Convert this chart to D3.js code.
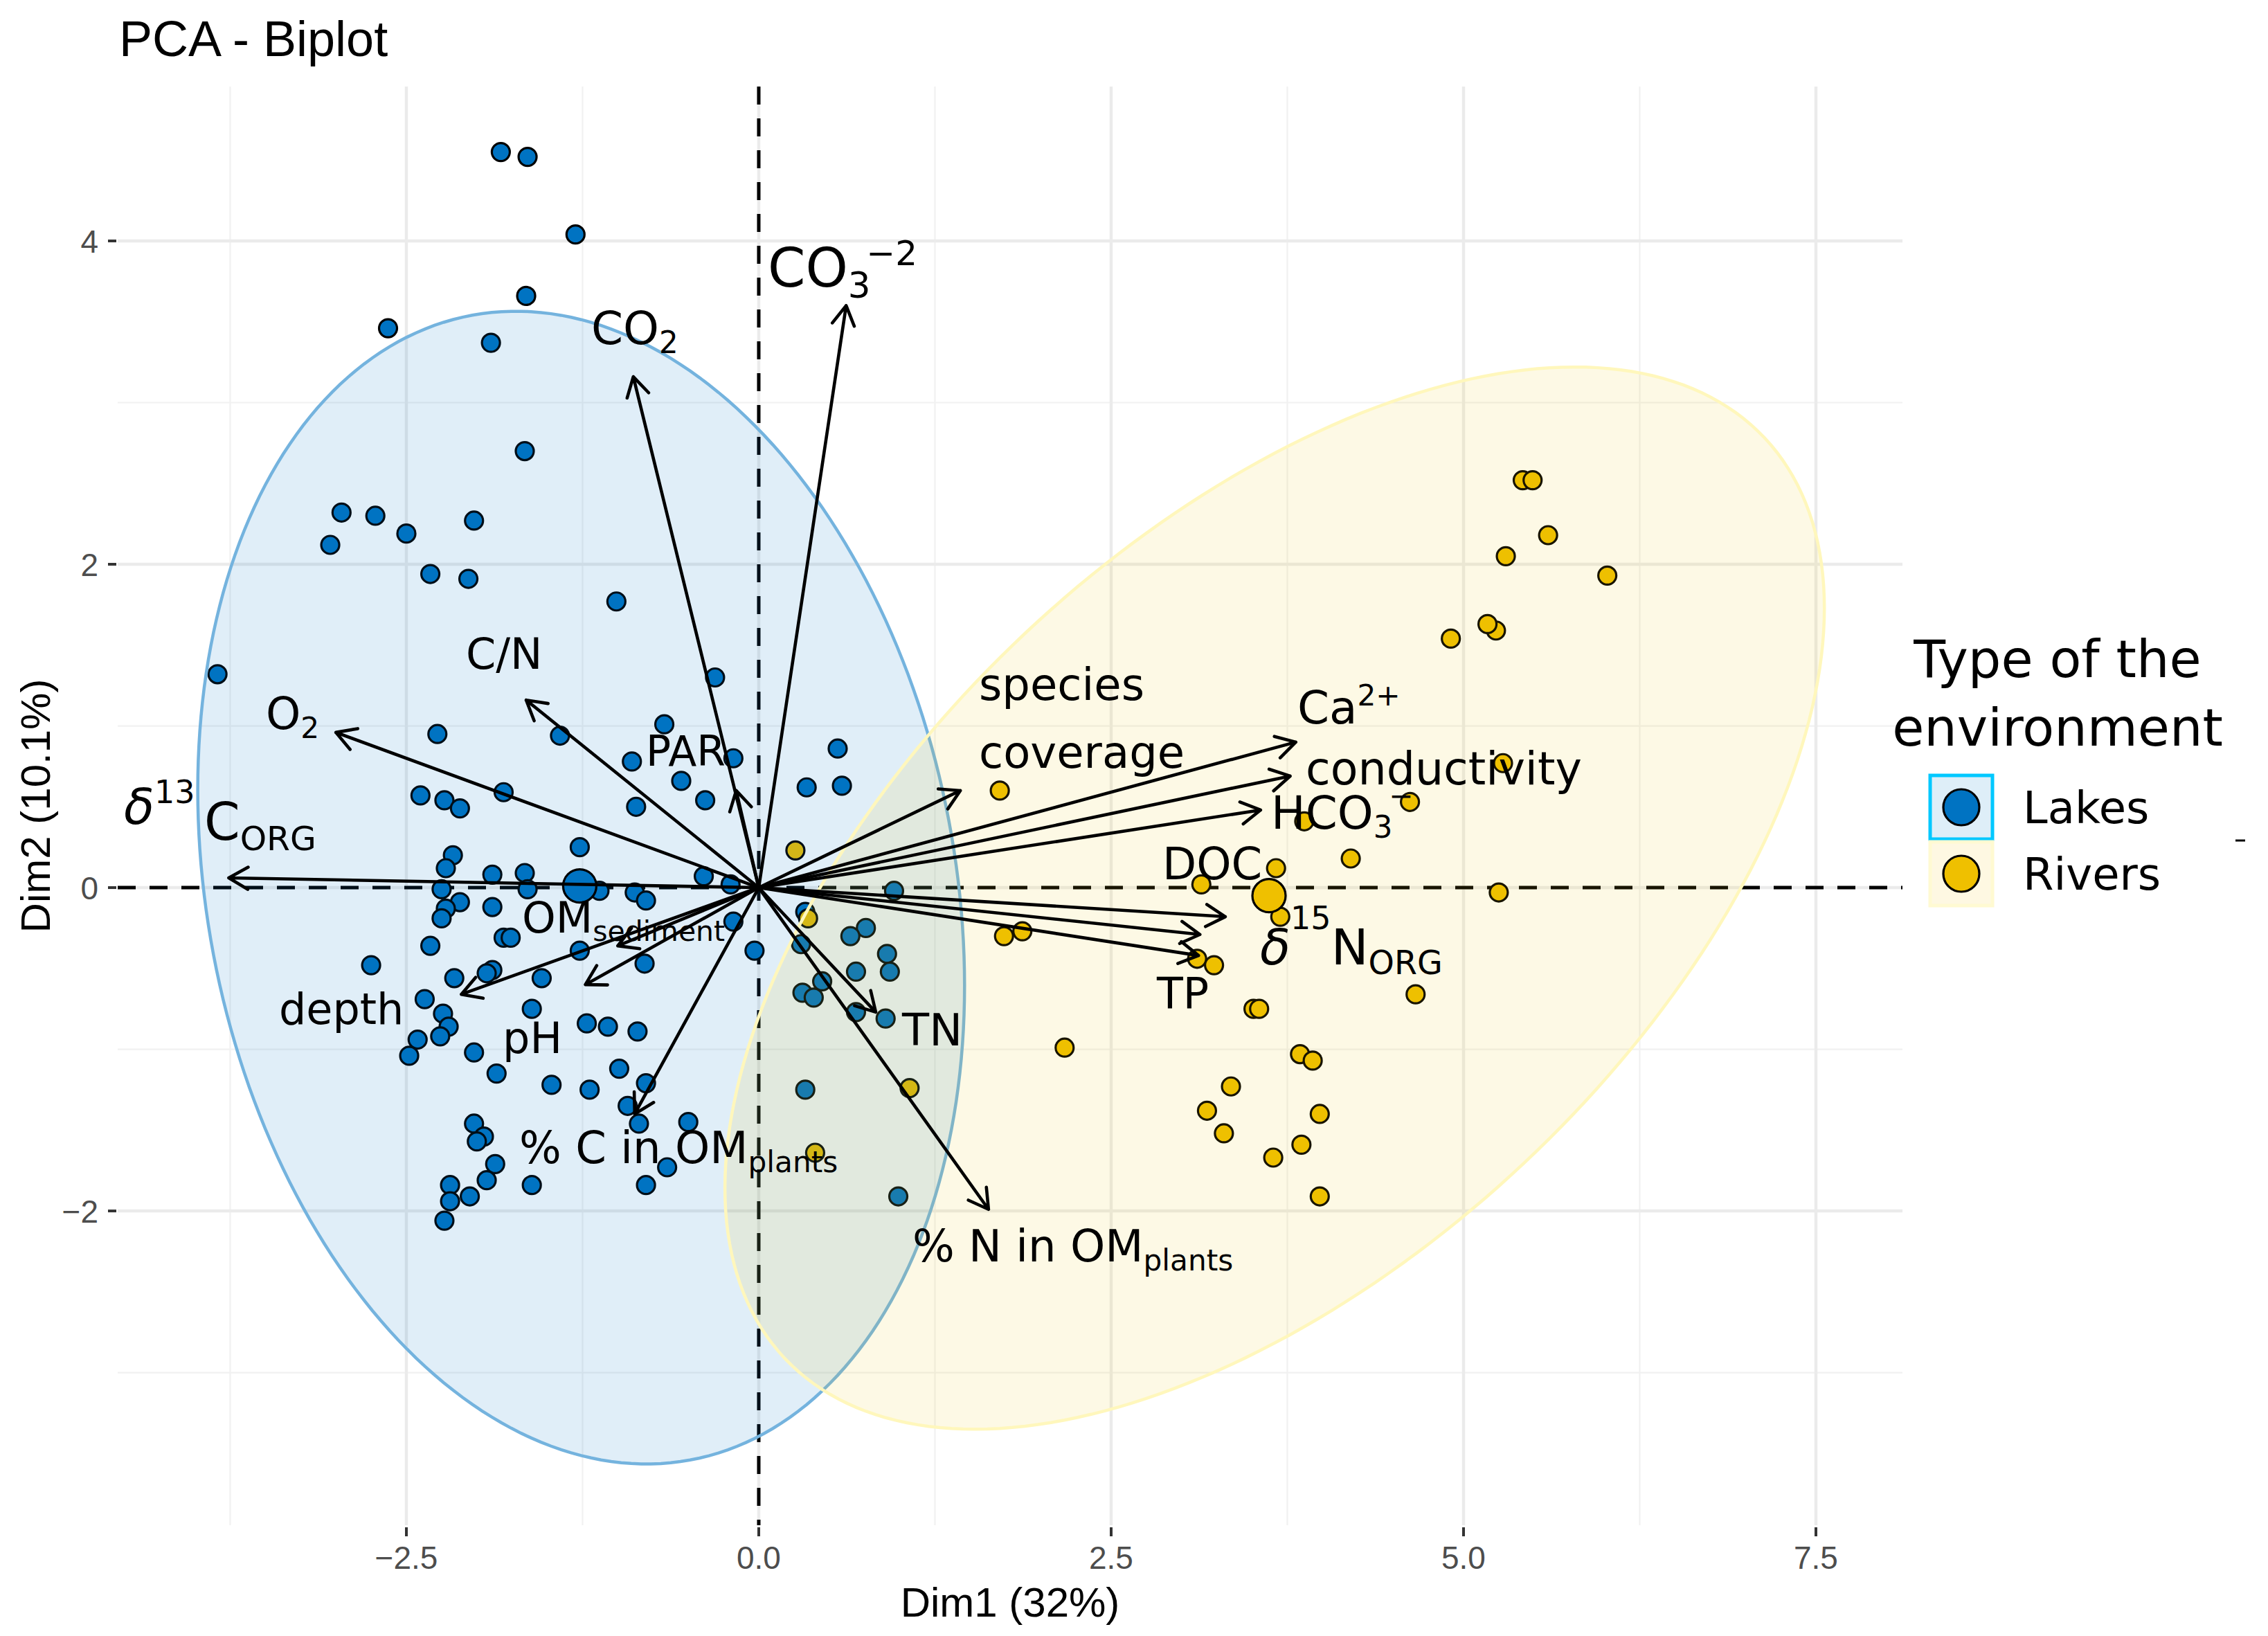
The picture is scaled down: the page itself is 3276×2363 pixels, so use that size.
<!DOCTYPE html>
<html>
<head>
<meta charset="utf-8">
<title>PCA - Biplot</title>
<script src="https://cdn.jsdelivr.net/npm/d3@7"></script>
<style>
  body { margin: 0; background: #fff; }
  .grid-major { stroke: #EBEBEB; stroke-width: 4.5; }
  .grid-minor { stroke: #F1F1F1; stroke-width: 2.2; }
  .tick { stroke: #333; stroke-width: 4; }
  .ticklab { font-family: "Liberation Sans", Arial, sans-serif; font-size: 46px; fill: #4D4D4D; }
  .axtitle { font-family: "Liberation Sans", Arial, sans-serif; font-size: 60px; fill: #000; }
  .varlab { font-family: "DejaVu Sans", sans-serif; fill: #000; white-space: pre; }
  .legend { font-family: "DejaVu Sans", sans-serif; fill: #000; }
</style>
</head>
<body>
<svg id="chart" width="3276" height="2363"></svg>
<script>
// ---- data ----
const groups = ["Lakes", "Rivers"];
const groupColors = ["#0073C2", "#EFC000"];

const lakesX = [-1.83,-1.64,-1.30,-1.65,-2.63,-1.90,-1.66,-2.96,-2.72,-2.50,-2.02,-3.04,-2.33,-2.06,-1.01,
  -3.84,-2.28,-1.41,-0.67,-0.31,-0.90,-0.18,-0.55,-0.38,-0.87,-1.81,-2.40,-2.23,-2.12,-1.27,-2.17,-2.22,-1.89,-1.66,-0.39,
  -0.20,-2.25,-1.64,-1.13,-0.88,-0.80,-2.12,-2.22,-2.25,-1.89,-0.18,-0.03,-1.81,-1.76,-2.33,-1.27,-0.81,-2.75,-2.16,-1.89,
  -1.93,-1.54,-2.37,-2.24,-2.20,-2.26,-2.42,-2.48,-1.61,-1.22,-1.07,-0.86,-2.02,-1.86,-0.99,-1.47,-1.20,-0.80,-0.93,-0.85,
  -0.50,-2.02,-1.95,-2.00,-1.87,-1.93,-1.61,-0.65,-0.80,-2.19,-2.05,-2.19,-2.23,
  0.56,0.34,0.59,0.96,0.33,0.76,0.65,0.30,0.91,0.93,0.69,0.45,0.31,0.39,0.69,0.90,0.33,0.99];
const lakesY = [4.55,4.52,4.04,3.66,3.46,3.37,2.70,2.32,2.30,2.19,2.27,2.12,1.94,1.91,1.77,
  1.32,0.95,0.94,1.01,1.30,0.78,0.80,0.66,0.54,0.50,0.59,0.57,0.54,0.49,0.25,0.20,0.12,0.08,0.09,0.07,
  0.02,-0.01,-0.01,-0.02,-0.03,-0.08,-0.09,-0.13,-0.19,-0.12,-0.21,-0.39,-0.31,-0.31,-0.36,-0.39,-0.47,-0.48,-0.56,-0.51,
  -0.53,-0.56,-0.69,-0.78,-0.86,-0.92,-0.94,-1.04,-0.75,-0.84,-0.86,-0.89,-1.02,-1.15,-1.12,-1.22,-1.25,-1.21,-1.35,-1.46,
  -1.45,-1.46,-1.54,-1.57,-1.71,-1.81,-1.84,-1.73,-1.84,-1.84,-1.91,-1.94,-2.06,
  0.86,0.62,0.63,-0.02,-0.15,-0.25,-0.30,-0.35,-0.41,-0.52,-0.52,-0.58,-0.65,-0.68,-0.77,-0.81,-1.25,-1.91];

const riversX = [1.71,1.74,1.87,2.17,3.14,3.11,3.23,3.35,3.18,3.30,4.91,5.23,5.17,5.28,4.62,3.87,4.20,3.67,5.25,3.70,
  4.66,3.51,3.55,3.84,3.93,3.98,3.85,3.65,3.98,5.42,5.49,5.60,5.30,6.02,0.26,0.35,0.40,1.07];
const riversY = [0.60,-0.30,-0.27,-0.99,0.02,-0.44,-0.48,-1.23,-1.38,-1.52,1.54,1.59,1.63,0.77,0.53,0.41,0.18,0.12,-0.03,-0.18,
  -0.66,-0.75,-0.75,-1.03,-1.07,-1.40,-1.59,-1.67,-1.91,2.52,2.52,2.18,2.05,1.93,0.23,-0.19,-1.64,-1.24];

const meanX = [-1.27, 3.62];
const meanY = [0.01, -0.05];

// confidence ellipses: centre, spread along each axis, correlation
const ellipseCx = [-1.26, 3.66];
const ellipseCy = [0.00, -0.065];
const ellipseSx = [2.72, 3.90];
const ellipseSy = [3.565, 3.285];
const ellipseRho = [-0.17, 0.546];

// variable arrows (tips)
const varX = [0.62,-0.89,-1.65,-3.00,-3.76,-0.16,-1.00,-2.11,-1.23,-0.88,1.63,0.83,1.43,3.81,3.77,3.56,3.13,3.31,3.12];
const varY = [3.60,3.16,1.16,0.96,0.06,0.60,-0.36,-0.66,-0.60,-1.40,-1.99,-0.77,0.60,0.90,0.69,0.48,-0.29,-0.18,-0.42];

// variable labels (start, baseline)
const labelText = ["CO_{3}^{−2}","CO_{2}","C/N","O_{2}","δ^{13}","C_{ORG}","PAR","OM_{sediment}","depth","pH",
  "% C in OM_{plants}","% N in OM_{plants}","TN","species","coverage","Ca^{2+}","conductivity","HCO_{3}^{−}","DOC","δ^{15}N_{ORG}","TP"];
const labelX = [0.064,-1.189,-2.078,-3.497,-4.504,-3.934,-0.801,-1.680,-3.404,-1.817,-1.699,1.090,1.017,1.562,1.562,3.821,3.880,3.635,2.863,3.556,2.824];
const labelY = [3.717,3.362,1.353,0.981,0.394,0.296,0.754,-0.278,-0.844,-1.024,-1.704,-2.313,-0.976,1.161,0.741,1.015,0.638,0.364,0.051,-0.475,-0.745];

const xTicks = [-2.5, 0, 2.5, 5, 7.5];
const xMinor = [-3.75, -1.25, 1.25, 3.75, 6.25];
const yTicks = [-2, 0, 2, 4];
const yMinor = [-3, -1, 1, 3];

// ---- layout ----
const labelSize = [78,66,62,64,72,74,60,62,62,62,64,64,64,64,64,66,65,66,64,72,62];
const supRaise = {"CO_{3}^{−2}": 0.40, "δ^{13}": 0.42, "Ca^{2+}": 0.39, "HCO_{3}^{−}": 0.50, "δ^{15}N_{ORG}": 0.71};
const panel = {left: 170, right: 2748, top: 125, bottom: 2203};

const svg = d3.select("#chart");
const x = d3.scaleLinear().domain([-4.548, 8.114]).range([panel.left, panel.right]);
const y = d3.scaleLinear().domain([-3.944, 4.955]).range([panel.bottom, panel.top]);

// grid
const grid = svg.append("g");
grid.selectAll(".vmin").data(xMinor).enter().append("line").attr("class", "grid-minor")
  .attr("x1", d => x(d)).attr("x2", d => x(d)).attr("y1", panel.top).attr("y2", panel.bottom);
grid.selectAll(".hmin").data(yMinor).enter().append("line").attr("class", "grid-minor")
  .attr("y1", d => y(d)).attr("y2", d => y(d)).attr("x1", panel.left).attr("x2", panel.right);
grid.selectAll(".vmaj").data(xTicks).enter().append("line").attr("class", "grid-major")
  .attr("x1", d => x(d)).attr("x2", d => x(d)).attr("y1", panel.top).attr("y2", panel.bottom);
grid.selectAll(".hmaj").data(yTicks).enter().append("line").attr("class", "grid-major")
  .attr("y1", d => y(d)).attr("y2", d => y(d)).attr("x1", panel.left).attr("x2", panel.right);

// axes ticks + labels
const fmtX = d => (d < 0 ? "\u2212" : "") + Math.abs(d).toFixed(1);
const fmtY = d => (d < 0 ? "\u2212" : "") + Math.abs(d);
svg.selectAll(".xt").data(xTicks).enter().append("line").attr("class", "tick")
  .attr("x1", d => x(d)).attr("x2", d => x(d)).attr("y1", panel.bottom + 3).attr("y2", panel.bottom + 16);
svg.selectAll(".xl").data(xTicks).enter().append("text").attr("class", "ticklab")
  .attr("x", d => x(d)).attr("y", 2266).attr("text-anchor", "middle").text(fmtX);
svg.selectAll(".yt").data(yTicks).enter().append("line").attr("class", "tick")
  .attr("y1", d => y(d)).attr("y2", d => y(d)).attr("x1", panel.left - 14).attr("x2", panel.left - 2);
svg.selectAll(".yl").data(yTicks).enter().append("text").attr("class", "ticklab")
  .attr("x", 142).attr("y", d => y(d)).attr("dy", "0.36em").attr("text-anchor", "end").text(fmtY);

svg.append("text").attr("class", "axtitle").attr("x", (panel.left + panel.right) / 2).attr("y", 2335)
  .attr("text-anchor", "middle").text("Dim1 (32%)");
svg.append("text").attr("class", "axtitle").attr("text-anchor", "middle")
  .attr("transform", `translate(72,${(panel.top + panel.bottom) / 2}) rotate(-90)`).text("Dim2 (10.1%)");
svg.append("text").attr("x", 172).attr("y", 81)
  .style("font-family", '"Liberation Sans", Arial, sans-serif').style("font-size", "72px").text("PCA - Biplot");

// zero lines
svg.append("line").attr("x1", panel.left).attr("x2", panel.right).attr("y1", y(0)).attr("y2", y(0))
  .attr("stroke", "#000").attr("stroke-width", 5).attr("stroke-dasharray", "26,20");
svg.append("line").attr("y1", panel.top).attr("y2", panel.bottom).attr("x1", x(0)).attr("x2", x(0))
  .attr("stroke", "#000").attr("stroke-width", 5).attr("stroke-dasharray", "26,20");

// individuals
const pts = [];
lakesX.forEach((v, i) => pts.push({x: v, y: lakesY[i], g: 0}));
riversX.forEach((v, i) => pts.push({x: v, y: riversY[i], g: 1}));
svg.append("g").selectAll("circle").data(pts).enter().append("circle")
  .attr("cx", d => x(d.x)).attr("cy", d => y(d.y)).attr("r", 13)
  .attr("fill", d => groupColors[d.g]).attr("stroke", "#000").attr("stroke-width", 3.2);

// ellipses
const ellipseStroke = ["#74B3DE", "#FFF7BC"];
const ellipseAlpha = [0.12, 0.10];
const tt = d3.range(0, 2 * Math.PI + 0.001, Math.PI / 120);
groups.forEach((g, k) => {
  const pts = tt.map(t => [
    ellipseCx[k] + ellipseSx[k] * Math.cos(t),
    ellipseCy[k] + ellipseSy[k] * (ellipseRho[k] * Math.cos(t) + Math.sqrt(1 - ellipseRho[k] ** 2) * Math.sin(t))
  ]);
  svg.append("path").datum(pts)
    .attr("d", d3.line().x(d => x(d[0])).y(d => y(d[1])).curve(d3.curveLinearClosed))
    .attr("fill", groupColors[k]).attr("fill-opacity", ellipseAlpha[k])
    .attr("stroke", ellipseStroke[k]).attr("stroke-width", 4.5);
});

// group means
svg.append("g").selectAll("circle").data(groups).enter().append("circle")
  .attr("cx", (d, i) => x(meanX[i])).attr("cy", (d, i) => y(meanY[i])).attr("r", 24)
  .attr("fill", (d, i) => groupColors[i]).attr("stroke", "#000").attr("stroke-width", 3.2);

// variable arrows
const headLen = 32, headAng = Math.PI / 6;
svg.append("g").selectAll("path").data(varX).enter().append("path")
  .attr("d", (d, i) => {
    const x0 = x(0), y0 = y(0), x1 = x(d), y1 = y(varY[i]);
    const th = Math.atan2(y1 - y0, x1 - x0);
    const a = [x1 - headLen * Math.cos(th - headAng), y1 - headLen * Math.sin(th - headAng)];
    const b = [x1 - headLen * Math.cos(th + headAng), y1 - headLen * Math.sin(th + headAng)];
    return `M${x0},${y0}L${x1},${y1}M${a[0]},${a[1]}L${x1},${y1}L${b[0]},${b[1]}`;
  })
  .attr("fill", "none").attr("stroke", "#000").attr("stroke-width", 4.6)
  .attr("stroke-linecap", "round").attr("stroke-linejoin", "round");

// variable labels with sub/superscripts
function richLabel(str, px, py, size) {
  const raise = supRaise[str] !== undefined ? supRaise[str] : 0.4;
  const parts = str.match(/_\{[^}]*\}|\^\{[^}]*\}|[^_^]+/g);
  const t = svg.append("text").attr("class", "varlab").attr("x", px).attr("y", py).style("font-size", size + "px");
  let shift = 0, prevSub = false;
  parts.forEach(p => {
    let txt = p, target = 0, fs = size, dx = 0;
    if (p[0] === "_") { txt = p.slice(2, -1); target = 0.2 * size; fs = 0.66 * size; }
    else if (p[0] === "^") {
      txt = p.slice(2, -1); target = -raise * size; fs = 0.64 * size;
      if (prevSub) dx = -0.08 * size;
    }
    const ts = t.append("tspan").attr("dy", target - shift).attr("dx", dx).style("font-size", fs + "px").text(txt);
    if (txt.indexOf("δ") >= 0) ts.style("font-style", "italic");
    shift = target;
    prevSub = p[0] === "_";
  });
}
labelText.forEach((s, i) => richLabel(s, x(labelX[i]), y(labelY[i]), labelSize[i]));

// legend
const lg = svg.append("g").attr("class", "legend");
lg.append("text").attr("x", 2972).attr("y", 978).attr("text-anchor", "middle").style("font-size", "75px").text("Type of the");
lg.append("text").attr("x", 2972).attr("y", 1077).attr("text-anchor", "middle").style("font-size", "75px").text("environment");
const keyFill = ["#DEEEF8", "#FEF8E2"], keyStroke = ["#00C8FF", "#FFFAD2"];
const keyTop = [1120, 1216];
groups.forEach((g, k) => {
  lg.append("rect").attr("x", 2788).attr("y", keyTop[k]).attr("width", 90).attr("height", 92)
    .attr("fill", keyFill[k]).attr("stroke", keyStroke[k]).attr("stroke-width", 5);
  lg.append("circle").attr("cx", 2833).attr("cy", keyTop[k] + 46).attr("r", 26)
    .attr("fill", groupColors[k]).attr("stroke", "#000").attr("stroke-width", 3.2);
  lg.append("text").attr("x", 2922).attr("y", keyTop[k] + 46).attr("dy", "0.36em")
    .style("font-size", "64px").text(g);
});
lg.append("line").attr("x1", 3229).attr("x2", 3243).attr("y1", 1214).attr("y2", 1214)
  .attr("stroke", "#000").attr("stroke-width", 3);
</script>
</body>
</html>
